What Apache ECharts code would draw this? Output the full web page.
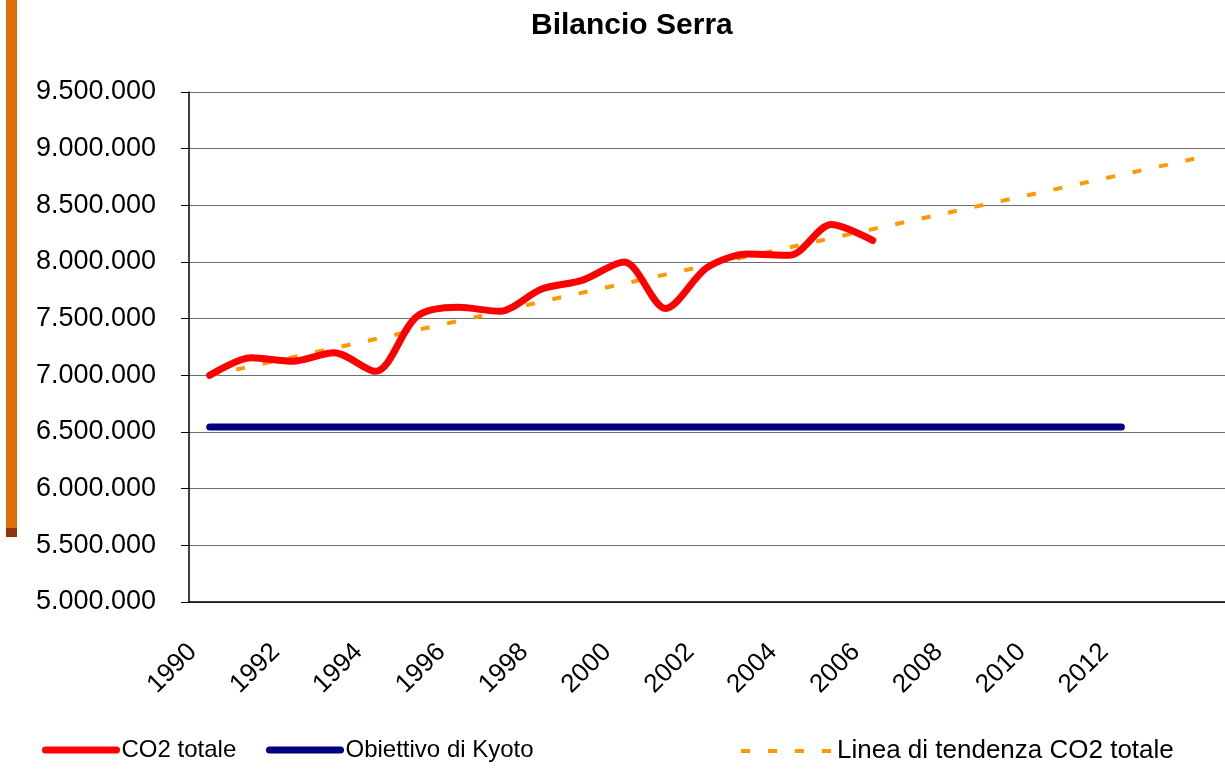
<!DOCTYPE html>
<html lang="it">
<head>
    <meta charset="UTF-8">
    <title>Bilancio Serra</title>
    <script src="https://cdn.jsdelivr.net/npm/echarts@6/dist/echarts.min.js"></script>
    <style>
        html, body { margin: 0; height: 100%; background: #fff; }
        #main { width: 1225px; height: 771px; }
    </style>
</head>
<body>
    <div id="main"></div>
    <script type="text/javascript">
        const years = ['1990', '1991', '1992', '1993', '1994', '1995', '1996', '1997', '1998', '1999',
            '2000', '2001', '2002', '2003', '2004', '2005', '2006', '2007', '2008', '2009',
            '2010', '2011', '2012', '2013', '2014'];

        // CO2 totale (1990-2006)
        const co2Totale = [7000000, 7155000, 7125000, 7200000, 7035000, 7520000, 7600000, 7565000,
            7760000, 7840000, 8000000, 7590000, 7950000, 8070000, 8060000, 8330000, 8190000];

        // Obiettivo di Kyoto (1990-2012)
        const kyoto = [6545000, 6545000, 6545000, 6545000, 6545000, 6545000, 6545000, 6545000,
            6545000, 6545000, 6545000, 6545000, 6545000, 6545000, 6545000, 6545000, 6545000,
            6545000, 6545000, 6545000, 6545000, 6545000, 6545000];

        // Linea di tendenza CO2 totale (1990-2014)
        const tendenza = [7000000, 7080000, 7160000, 7240000, 7320000, 7400000, 7480000, 7560000,
            7650000, 7730000, 7810000, 7890000, 7970000, 8050000, 8130000, 8210000, 8290000,
            8370000, 8450000, 8530000, 8610000, 8690000, 8770000, 8850000, 8930000];

        const FONT = '"Liberation Sans", Arial, sans-serif';
        const fmt = v => String(v).replace(/\B(?=(\d{3})+(?!\d))/g, '.');

        const chart = echarts.init(document.getElementById('main'));

        const legendBase = (name, left, width, fontSize, lineStyle) => ({
            data: [name],
            left: left,
            top: 738,
            padding: 0,
            itemWidth: width,
            itemHeight: 14,
            itemStyle: { opacity: 0 },
            textStyle: { fontFamily: FONT, fontSize: fontSize, color: '#000' },
            lineStyle: lineStyle
        });

        chart.setOption({
            animation: false,
            title: {
                text: 'Bilancio Serra',
                left: 531,
                top: 11,
                padding: 0,
                textStyle: { fontFamily: FONT, fontSize: 30, fontWeight: 'bold', color: '#000' }
            },
            graphic: [
                { type: 'rect', shape: { x: 6, y: 0, width: 11, height: 528 }, style: { fill: '#E16C0A' } },
                { type: 'rect', shape: { x: 6, y: 528, width: 11, height: 9 }, style: { fill: '#943111' } }
            ],
            legend: [
                legendBase('CO2 totale', 42, 71, 24, { width: 7, cap: 'round' }),
                legendBase('Obiettivo di Kyoto', 266, 71, 24, { width: 7, cap: 'round' }),
                legendBase('Linea di tendenza CO2 totale', 739, 91, 26, { width: 4 })
            ],
            grid: { left: 189, top: 92, width: 1040, height: 510 },
            xAxis: {
                type: 'category',
                data: years,
                boundaryGap: true,
                axisLine: { lineStyle: { color: '#000', width: 1.5 } },
                axisTick: { interval: 0, length: 8, lineStyle: { color: '#000' } },
                axisLabel: {
                    interval: 1,
                    rotate: 45,
                    margin: 29,
                    padding: [0, 24, 0, 0],
                    fontFamily: FONT,
                    fontSize: 26,
                    color: '#000',
                    formatter: v => (v === '2014' ? '' : v)
                },
                splitLine: { show: false }
            },
            yAxis: {
                type: 'value',
                min: 5000000,
                max: 9500000,
                interval: 500000,
                axisLine: { show: true, lineStyle: { color: '#000', width: 1.5 } },
                axisTick: { show: true, length: 8, lineStyle: { color: '#000' } },
                axisLabel: {
                    margin: 33,
                    formatter: fmt,
                    fontFamily: FONT,
                    fontSize: 27,
                    color: '#000'
                },
                splitLine: { lineStyle: { color: '#6e6e6e', width: 1.2 } }
            },
            series: [
                {
                    name: 'Linea di tendenza CO2 totale',
                    type: 'line',
                    data: tendenza,
                    symbol: 'none',
                    z: 1,
                    lineStyle: { color: '#FF9900', width: 4, type: [9, 18] },
                    itemStyle: { color: '#FF9900' }
                },
                {
                    name: 'Obiettivo di Kyoto',
                    type: 'line',
                    data: kyoto,
                    symbol: 'none',
                    z: 2,
                    lineStyle: { color: '#000080', width: 7, cap: 'round' },
                    itemStyle: { color: '#000080' }
                },
                {
                    name: 'CO2 totale',
                    type: 'line',
                    data: co2Totale,
                    symbol: 'none',
                    smooth: 0.3,
                    z: 3,
                    lineStyle: { color: '#FF0000', width: 7, cap: 'round', join: 'round' },
                    itemStyle: { color: '#FF0000' }
                }
            ]
        });
    </script>
</body>
</html>
